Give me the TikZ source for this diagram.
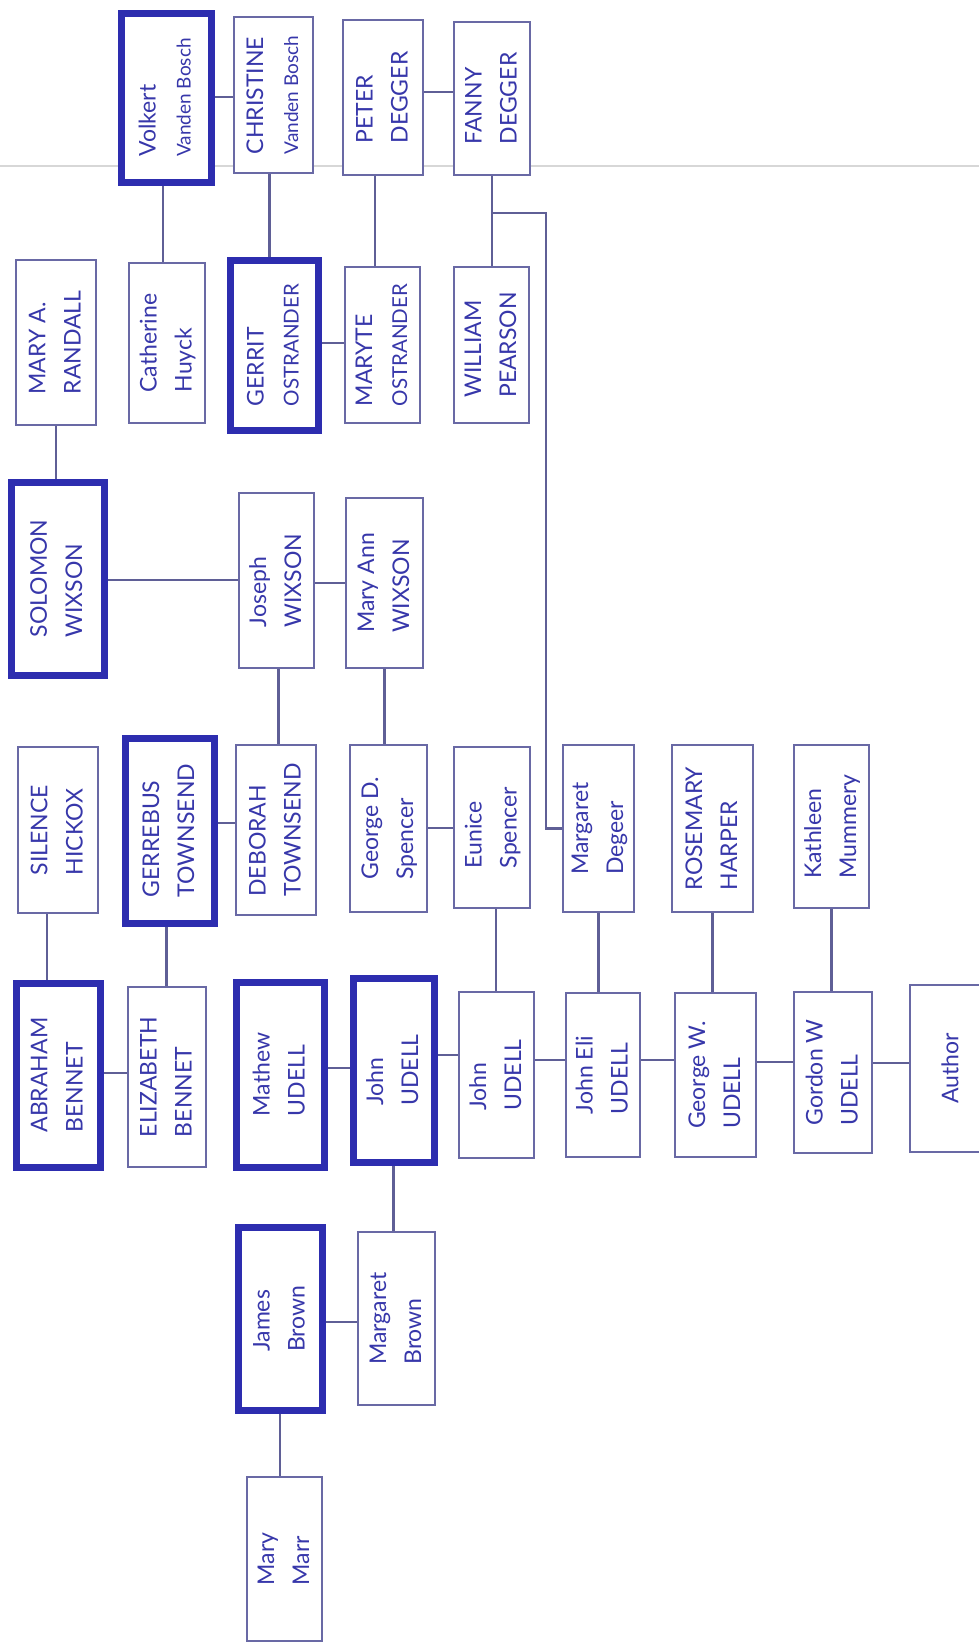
\documentclass[tikz,border=0pt]{standalone}
\usepackage{fontspec}
\setmainfont{Lato}
\usepackage{graphicx}
\definecolor{inkc}{RGB}{55,55,170}
\definecolor{boxc}{RGB}{105,105,165}
\definecolor{thickc}{RGB}{45,45,175}
\definecolor{linkc}{RGB}{95,95,150}
\definecolor{scanc}{RGB}{215,215,215}
\newcommand{\tx}[2]{\rotatebox{90}{\renewcommand{\arraystretch}{1}\begin{tabular}{@{}l@{}}#1\\#2\end{tabular}}}
\newcommand{\sm}[1]{{\fontsize{19}{20}\selectfont #1}}
\newcommand{\md}[1]{{\fontsize{20.5}{20}\selectfont #1}}
\tikzset{
  person/.style={draw=boxc, line width=2.8pt, fill=white, inner sep=0pt, text=inkc,
    font=\fontsize{23}{35}\selectfont},
  anc/.style={person, draw=thickc, line width=7pt},
  link/.style={draw=linkc, line width=2.8pt},
  scanline/.style={draw=scanc, line width=2pt}
}
\begin{document}
\begin{tikzpicture}[x=1pt,y=-1pt]
\path[use as bounding box, fill=white] (0,0) rectangle (979,1644);
\draw[scanline] (0,166) -- (979,166);

% top rows
\node[anc, minimum width=90pt, minimum height=169pt] (vol) at (166,97.5) {\tx{Volkert}{\sm{Vanden Bosch}}};
\node[person, minimum width=79pt, minimum height=156pt] (chr) at (273.5,95) {\tx{CHRISTINE}{\sm{Vanden Bosch}}};
\node[person, minimum width=80pt, minimum height=155pt] (pet) at (383,97.5) {\tx{PETER}{DEGGER}};
\node[person, minimum width=76pt, minimum height=153pt] (fan) at (492,98.5) {\tx{FANNY}{DEGGER}};

\node[person, minimum width=80pt, minimum height=165pt] (mar) at (56,342.5) {\tx{MARY A.}{RANDALL}};
\node[person, minimum width=76pt, minimum height=160pt] (cat) at (167,343) {\tx{Catherine}{Huyck}};
\node[anc, minimum width=88pt, minimum height=170pt] (ger) at (274,345) {\tx{GERRIT}{\md{OSTRANDER}}};
\node[person, minimum width=75pt, minimum height=156pt] (mry) at (382.5,345) {\tx{MARYTE}{\md{OSTRANDER}}};
\node[person, minimum width=75pt, minimum height=156pt] (wil) at (491.5,345) {\tx{WILLIAM}{PEARSON}};

\node[anc, minimum width=93pt, minimum height=193pt] (sol) at (57.5,578.5) {\tx{SOLOMON}{WIXSON}};
\node[person, minimum width=75pt, minimum height=175pt] (jos) at (276.5,580.5) {\tx{Joseph}{WIXSON}};
\node[person, minimum width=77pt, minimum height=170pt] (mann) at (384.5,583) {\tx{Mary Ann}{WIXSON}};

\node[person, minimum width=80pt, minimum height=166pt] (sil) at (58,830) {\tx{SILENCE}{HICKOX}};
\node[anc, minimum width=89pt, minimum height=185pt] (gbs) at (169.5,830.5) {\tx{GERREBUS}{TOWNSEND}};
\node[person, minimum width=80pt, minimum height=170pt] (deb) at (276,830) {\tx{DEBORAH}{TOWNSEND}};
\node[person, minimum width=77pt, minimum height=167pt] (geo) at (388.5,828.5) {\tx{George D.}{Spencer}};
\node[person, minimum width=76pt, minimum height=161pt] (eun) at (492,827.5) {\tx{Eunice}{Spencer}};
\node[person, minimum width=71pt, minimum height=167pt] (mdg) at (598.5,828.5) {\tx{Margaret}{Degeer}};
\node[person, minimum width=81pt, minimum height=167pt] (ros) at (712.5,828.5) {\tx{ROSEMARY}{HARPER}};
\node[person, minimum width=75pt, minimum height=163pt] (kat) at (831.5,826.5) {\tx{Kathleen}{Mummery}};

\node[anc, minimum width=84pt, minimum height=184pt] (abr) at (58,1075) {\tx{ABRAHAM}{BENNET}};
\node[person, minimum width=78pt, minimum height=180pt] (eli) at (167,1077) {\tx{ELIZABETH}{BENNET}};
\node[anc, minimum width=88pt, minimum height=185pt] (mat) at (280,1074.5) {\tx{Mathew}{UDELL}};
\node[anc, minimum width=81pt, minimum height=184pt] (jo1) at (393.5,1070) {\tx{John}{UDELL}};
\node[person, minimum width=75pt, minimum height=166pt] (jo2) at (496.5,1075) {\tx{John}{UDELL}};
\node[person, minimum width=74pt, minimum height=164pt] (jel) at (603,1075) {\tx{John Eli}{UDELL}};
\node[person, minimum width=81pt, minimum height=164pt] (gwu) at (715.5,1075) {\tx{George W.}{UDELL}};
\node[person, minimum width=78pt, minimum height=161pt] (gor) at (833,1072.5) {\tx{Gordon W}{UDELL}};
\node[person, minimum width=80pt, minimum height=167pt] (aut) at (950,1068.5) {\rotatebox{90}{Author}};

\node[anc, minimum width=84pt, minimum height=183pt] (jam) at (280,1318.5) {\tx{James}{Brown}};
\node[person, minimum width=77pt, minimum height=173pt] (mbr) at (396.5,1318.5) {\tx{Margaret}{Brown}};
\node[person, minimum width=75pt, minimum height=164pt] (mma) at (284.5,1559) {\tx{Mary}{Marr}};

% connectors
\draw[link] (vol.east |- 0,97) -- (chr.west |- 0,97);
\draw[link] (pet.east |- 0,92) -- (fan.west |- 0,92);
\draw[link] ([xshift=-3pt]vol.south) -- ([xshift=-3pt]vol.south |- cat.north);
\draw[link] ([xshift=-4pt]chr.south) -- ([xshift=-4pt]chr.south |- ger.north);
\draw[link] ([xshift=-8pt]pet.south) -- ([xshift=-8pt]pet.south |- mry.north);
\draw[link] (fan.south) -- (fan.south |- wil.north);
\coordinate (br) at (546,213);
\draw[link] (fan.south |- br) -- (br) |- (mdg.west);
\draw[link] (ger.east |- 0,343) -- (mry.west |- 0,343);
\draw[link] (mar.south) -- (mar.south |- sol.north);
\draw[link] (sol.east |- 0,580) -- (jos.west |- 0,580);
\draw[link] (jos.east |- 0,583) -- (mann.west |- 0,583);
\draw[link] ([xshift=2pt]jos.south) -- ([xshift=2pt]jos.south |- deb.north);
\draw[link] (mann.south) -- (mann.south |- geo.north);
\draw[link] (gbs.east |- 0,823) -- (deb.west |- 0,823);
\draw[link] (geo.east |- 0,828) -- (eun.west |- 0,828);
\draw[link] ([xshift=-11pt]sil.south) -- ([xshift=-11pt]sil.south |- abr.north);
\draw[link] ([xshift=-3pt]gbs.south) -- ([xshift=-3pt]gbs.south |- eli.north);
\draw[link] ([xshift=4pt]eun.south) -- ([xshift=4pt]eun.south |- jo2.north);
\draw[link] (mdg.south) -- (mdg.south |- jel.north);
\draw[link] (ros.south) -- (ros.south |- gwu.north);
\draw[link] (kat.south) -- (kat.south |- gor.north);
\draw[link] (abr.east |- 0,1073) -- (eli.west |- 0,1073);
\draw[link] (mat.east |- 0,1068) -- (jo1.west |- 0,1068);
\draw[link] (jo1.east |- 0,1055) -- (jo2.west |- 0,1055);
\draw[link] (jo2.east |- 0,1060) -- (jel.west |- 0,1060);
\draw[link] (jel.east |- 0,1060) -- (gwu.west |- 0,1060);
\draw[link] (gwu.east |- 0,1062) -- (gor.west |- 0,1062);
\draw[link] (gor.east |- 0,1063) -- (aut.west |- 0,1063);
\draw[link] (jo1.south) -- (jo1.south |- mbr.north);
\draw[link] (jam.east |- 0,1322) -- (mbr.west |- 0,1322);
\draw[link] (jam.south) -- (jam.south |- mma.north);
\end{tikzpicture}
\end{document}
